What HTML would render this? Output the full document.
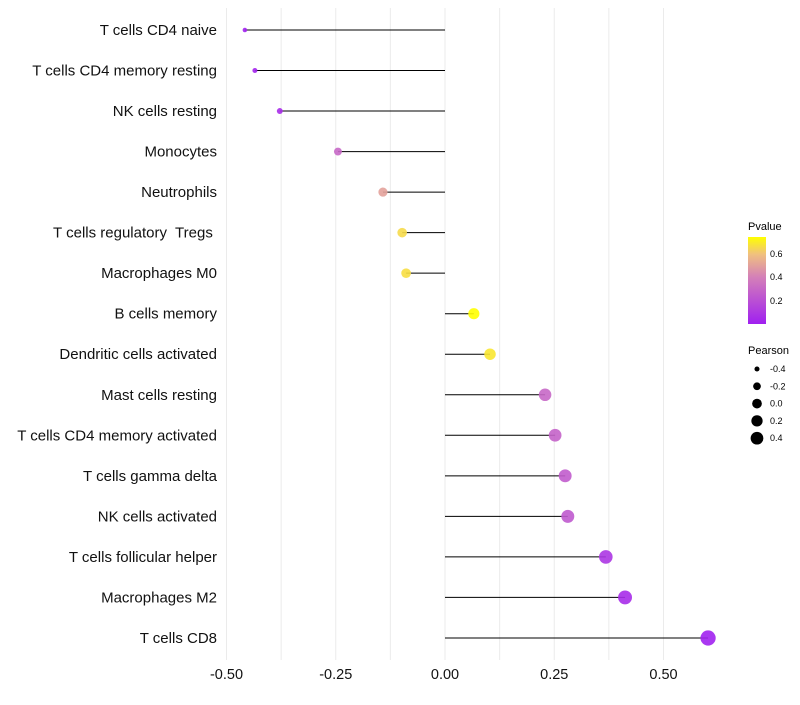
<!DOCTYPE html>
<html><head><meta charset="utf-8"><style>
body{margin:0;background:#fff;font-family:"Liberation Sans",sans-serif}
text{white-space:pre}
</style></head><body>
<svg id="chart" width="800" height="700" xmlns="http://www.w3.org/2000/svg">
<defs><linearGradient id="pg" x1="0" y1="1" x2="0" y2="0">
<stop offset="0" stop-color="#a020f0"/><stop offset="0.54" stop-color="#d480b8"/><stop offset="0.8" stop-color="#f0c080"/><stop offset="1" stop-color="#ffff00"/>
</linearGradient></defs>
<g id="grid"></g><g id="marks"></g><g id="labels"></g>
<g>
<text x="748" y="230" font-size="11">Pvalue</text>
<rect x="748" y="237" width="18" height="87" fill="url(#pg)"/>
<text x="770" y="257" font-size="9">0.6</text>
<text x="770" y="280" font-size="9">0.4</text>
<text x="770" y="304" font-size="9">0.2</text>
</g>
<g id="sizeleg">
<text x="748" y="354" font-size="11">Pearson</text>
</g>
</svg>
<script>
const categories=["T cells CD4 naive","T cells CD4 memory resting","NK cells resting","Monocytes","Neutrophils","T cells regulatory  Tregs ","Macrophages M0","B cells memory","Dendritic cells activated","Mast cells resting","T cells CD4 memory activated","T cells gamma delta","NK cells activated","T cells follicular helper","Macrophages M2","T cells CD8"];
const pearson=[-0.458,-0.435,-0.378,-0.245,-0.142,-0.098,-0.089,0.066,0.103,0.229,0.252,0.275,0.281,0.368,0.412,0.602];
const pvalue=[0.01,0.02,0.05,0.3,0.5,0.65,0.66,0.75,0.68,0.3,0.28,0.25,0.24,0.09,0.05,0.01];
const xTicks=[-0.5,-0.25,0,0.25,0.5];
const xTickLabels=["-0.50","-0.25","0.00","0.25","0.50"];
const sizeLegend=[-0.4,-0.2,0.0,0.2,0.4];
const sizeLegendLabels=["-0.4","-0.2","0.0","0.2","0.4"];
const NS="http://www.w3.org/2000/svg";
const x=v=>445+v*437;
const y=i=>30+i*40.53;
const r=v=>Math.sqrt(Math.max(1,5+50*(v+0.458)));
const rl=v=>Math.sqrt(Math.max(1,4+42.5*(v+0.458)));
function mix(a,b,t){return a.map((c,i)=>Math.round(c+(b[i]-c)*t));}
const stops=[[0,[160,32,240]],[0.4,[212,128,184]],[0.59,[240,192,128]],[0.736,[255,255,0]]];
function col(p){p=Math.min(0.736,Math.max(0,p));for(let i=1;i<stops.length;i++){if(p<=stops[i][0]){const t=(p-stops[i-1][0])/(stops[i][0]-stops[i-1][0]);const c=mix(stops[i-1][1],stops[i][1],t);return `rgb(${c})`;}}return "rgb(255,255,0)";}
function mk(tag,attrs,parent){const e=document.createElementNS(NS,tag);for(const k in attrs)e.setAttribute(k,attrs[k]);parent.appendChild(e);return e;}
const grid=document.getElementById('grid'),marks=document.getElementById('marks'),labels=document.getElementById('labels');
for(let v=-0.5;v<=0.6;v+=0.125){const g=mk('line',{x1:x(v),x2:x(v),y1:8,y2:660,stroke:'#ebebeb','stroke-width':1},grid);

}
xTicks.forEach((v,i)=>{const t=mk('text',{x:x(v),y:679,'font-size':14.5,'text-anchor':'middle',fill:'#111'},labels);t.textContent=xTickLabels[i];

});
categories.forEach((c,i)=>{
const t=mk('text',{x:217,y:y(i)+5,'font-size':15,'text-anchor':'end',fill:'#111'},labels);t.textContent=c;


const l=mk('line',{x1:x(0),x2:x(pearson[i]),y1:y(i),y2:y(i),stroke:'#000','stroke-width':1},marks);


const d=mk('circle',{cx:x(pearson[i]),cy:y(i),r:r(pearson[i]),fill:col(pvalue[i]),'fill-opacity':0.9},marks);


});
const sl=document.getElementById('sizeleg');
sizeLegend.forEach((v,i)=>{const cy=369+i*17.3;
const c=mk('circle',{cx:757,cy:cy,r:rl(v),fill:'#000'},sl);


const t=mk('text',{x:770,y:cy+3,'font-size':9},sl);t.textContent=sizeLegendLabels[i];

});
</script>
</body></html>
